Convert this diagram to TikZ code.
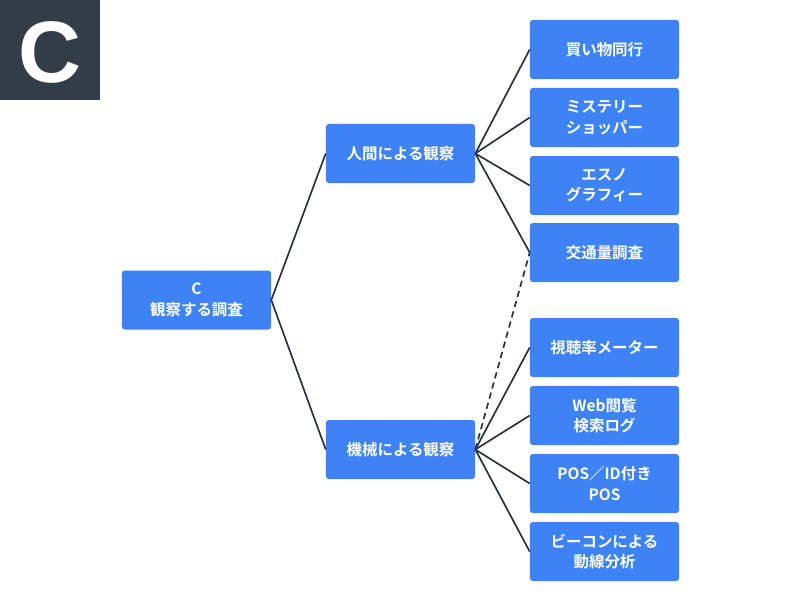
\documentclass[tikz,border=0pt]{standalone}
\usepackage{fontspec}
\setmainfont{Liberation Sans}
\newfontfamily\jpfont{Noto Sans CJK JP}[BoldFont={Noto Sans CJK JP Bold}]
\usepackage{xcolor}
\usetikzlibrary{positioning,calc}
\definecolor{boxblue}{HTML}{3D83F6}
\definecolor{edgegray}{HTML}{2B323C}
\definecolor{tagdark}{HTML}{333D48}

\begin{document}
\begin{tikzpicture}[
    x=0.025cm, y=-0.025cm,
    box/.style={
      fill=boxblue,
      rounded corners=2pt,
      minimum width=3.725cm,
      minimum height=1.475cm,
      align=center,
      text=white,
      font=\jpfont\bfseries\fontsize{11}{14.5}\selectfont,
      inner sep=0pt
    },
    link/.style={
      draw=edgegray,
      line width=1.2pt
    }
  ]
    \useasboundingbox (0,0) rectangle (801,601);
    % tag in the corner
    \fill[tagdark] (0,0) rectangle (100,100);
    \node[text=white, font=\bfseries\fontsize{62}{62}\selectfont] (tag) at (50,52) {C};

    % tree
    \node[box] (root) at (196.5,300) {C\\観察する調査};
    \node[box] (human) at (400.5,153.5) {人間による観察};
    \node[box] (machine) at (400.5,449.5) {機械による観察};

    \node[box] (h1) at (604.5,49.5)  {買い物同行};
    \node[box] (h2) at (604.5,117.5) {ミステリー\\ショッパー};
    \node[box] (h3) at (604.5,185.5) {エスノ\\グラフィー};
    \node[box] (h4) at (604.5,252.5) {交通量調査};

    \node[box] (m1) at (604.5,347.5) {視聴率メーター};
    \node[box] (m2) at (604.5,415.5) {Web閲覧\\検索ログ};
    \node[box] (m3) at (604.5,483.5) {POS／ID付き\\POS};
    \node[box] (m4) at (604.5,551.5) {ビーコンによる\\動線分析};

    \draw[link] (human.west) -- (root.east) -- (machine.west);
    \foreach \leaf in {h1,h2,h3,h4}
      \draw[link] (human.east) -- (\leaf.west);
    \foreach \leaf in {m1,m2,m3,m4}
      \draw[link] (machine.east) -- (\leaf.west);
    \draw[link, dash pattern=on 4.5pt off 3pt] (machine.east) -- (h4.west);
  \end{tikzpicture}
\end{document}
